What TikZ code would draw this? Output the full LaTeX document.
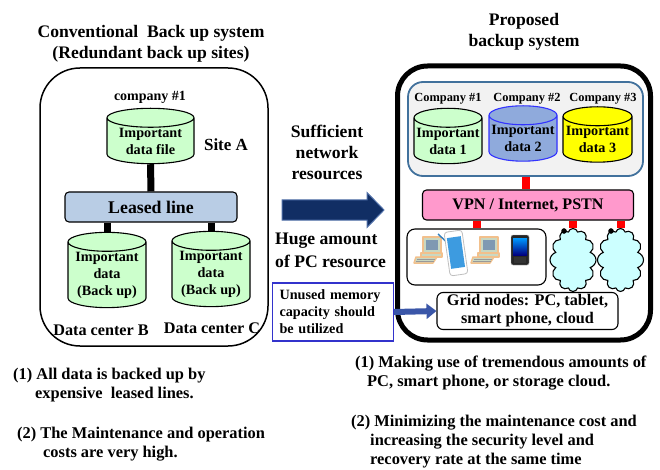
\documentclass[tikz,border=0pt]{standalone}
\usepackage{fontspec}
\setmainfont{Liberation Serif}
\usetikzlibrary{arrows.meta,positioning,shapes.geometric,shapes.symbols}

\definecolor{dbgreen}{HTML}{CCFFCC}
\definecolor{dbblue}{HTML}{8FAADC}
\definecolor{dbbluetop}{HTML}{B4C7E7}
\definecolor{dbblueedge}{HTML}{3333FF}
\definecolor{dbyellow}{HTML}{FFFF00}
\definecolor{leasefill}{HTML}{B9CDE5}
\definecolor{vpnpink}{HTML}{FF99CC}
\definecolor{groupgray}{HTML}{F2F2F2}
\definecolor{groupedge}{HTML}{41719C}
\definecolor{cloudcyan}{HTML}{CCFFFF}
\definecolor{navy}{HTML}{112E64}
\definecolor{navyedge}{HTML}{4F6FA8}
\definecolor{noteblue}{HTML}{3333CC}
\definecolor{arrowblue}{HTML}{3A56A8}
\definecolor{pcbody}{HTML}{C9D8C2}
\definecolor{pcscreen}{HTML}{7F99B2}
\definecolor{pcglow}{HTML}{F2C08C}
\definecolor{tabblue}{HTML}{3D9BE0}
\definecolor{stylusblue}{HTML}{2F7FBF}

\tikzset{
  pcicon/.pic={
    \begin{scope}[draw=pcglow, line width=1.5pt, fill=pcbody, line join=round]
      \filldraw (-6,-13) rectangle (12,3);
      \filldraw (-8,3) rectangle (13,7);
      \filldraw (-13,7) -- (8,7) -- (4,13) -- (-15,13) -- cycle;
    \end{scope}
    \fill[pcscreen] (-3,-10) rectangle (9,0);
    \draw[gray!80, line width=0.6pt] (-12,9) -- (6,9) (-13,11) -- (5,11);
  },
  tableticon/.pic={
    \draw[stylusblue, line width=1.4pt] (-18,-19) -- (-3,-5);
    \begin{scope}[rotate=8]
      \filldraw[fill=white, draw=gray!50, line width=0.8pt, rounded corners=3pt] (-9,-22) rectangle (9,22);
      \fill[tabblue] (-7,-16) rectangle (7,15);
    \end{scope}
  },
  phoneicon/.pic={
    \filldraw[fill=black!85, draw=gray!60, rounded corners=2pt] (-9,-15) rectangle (9,15);
    \shade[top color=cyan!60!blue, bottom color=blue!50!black] (-7,-12) rectangle (7,5);
    \fill[gray!40!black] (-6,7) rectangle (6,13);
  }
}

\begin{document}
\begin{tikzpicture}[x=1pt,y=-1pt,
every node/.style={font=\bfseries, inner sep=0pt},
db/.style={cylinder, shape border rotate=90, aspect=0.3, draw, line width=1.1pt,
  fill=dbgreen, align=center, font=\fontsize{14.2}{17}\selectfont\bfseries},
box/.style={draw, line width=1.1pt, rounded corners=4pt, align=center},
link/.style={line width=7pt},
redlink/.style={line width=8pt, red},
heading/.style={align=center, font=\fontsize{17.6}{21}\selectfont\bfseries},
txt/.style={align=center, font=\fontsize{16.2}{19}\selectfont\bfseries},
remark/.style={align=left, anchor=west, font=\fontsize{16.4}{19}\selectfont\bfseries},
puff/.style={cloud, cloud puffs=12, cloud ignores aspect, draw, line width=1.1pt,
  fill=cloudcyan, minimum width=46pt, minimum height=63pt},
knot/.style={circle, draw, fill=black, minimum size=5pt}]
\useasboundingbox (0,0) rectangle (660,470);

% conventional system
\node[heading] (convtitle) at (151,44) {Conventional\ \ Back up system\\(Redundant back up sites)};
\node[draw, line width=1.5pt, rounded corners=40pt, minimum width=228pt, minimum height=278pt] (convsys) at (154,207) {};
\node[font=\fontsize{14}{16}\selectfont\bfseries] (comp) at (150,97) {company \#1};
\node[db, minimum width=87pt, minimum height=50pt] (siteA) at (150.5,141) {Important\\data file};
\node[font=\fontsize{17}{19}\selectfont\bfseries] (siteAlbl) at (226,145) {Site A};
\node[box, fill=leasefill, minimum width=172pt, minimum height=30pt,
  font=\fontsize{17.8}{20}\selectfont\bfseries] (leased) at (151,207) {Leased line};
\node[db, minimum width=78pt, minimum height=70pt] (dcB) at (107,275) {Important\\data\\(Back up)};
\node[db, minimum width=78pt, minimum height=68pt] (dcC) at (211,274) {Important\\data\\(Back up)};
\node[txt] (dcBlbl) at (101,330) {Data center B};
\node[txt] (dcClbl) at (212,328) {Data center C};
\draw[link] (siteA.south) -- (leased.north);
\draw[link] (leased.south -| dcB.north) -- (dcB.north);
\draw[link] (leased.south -| dcC.north) -- (dcC.north);

% middle
\node[heading] (netres) at (327,152) {Sufficient\\network\\resources};
\filldraw[fill=navy, draw=navyedge, line width=1pt] (282,200) -- (367,200) -- (367,192.5)
  -- (384,210) -- (367,227.5) -- (367,220) -- (282,220) -- cycle;
\node[heading, align=left, anchor=west, font=\fontsize{17.6}{23}\selectfont\bfseries] (pcres) at (275,250) {Huge amount\\of PC resource};
\node[draw=noteblue, line width=1.2pt, text width=107pt, minimum height=58pt, inner xsep=7pt,
  align=left, font=\fontsize{14.2}{17}\selectfont\bfseries] (unused) at (333,312) {Unused memory\\capacity should\\be utilized};

% proposed system
\node[heading] (proptitle) at (524,32) {Proposed\\backup system};
\node[draw, line width=5pt, rounded corners=30pt, minimum width=253pt, minimum height=274pt] (propsys) at (524,203) {};
\node[draw=groupedge, fill=groupgray, line width=1.8pt, rounded corners=15pt,
  minimum width=235pt, minimum height=94pt] (companies) at (525.5,129) {};
\node[font=\fontsize{12.4}{14}\selectfont\bfseries] (comp1) at (448,99) {Company \#1};
\node[font=\fontsize{12.4}{14}\selectfont\bfseries] (comp2) at (527,99) {Company \#2};
\node[font=\fontsize{12.4}{14}\selectfont\bfseries] (comp3) at (603,99) {Company \#3};
\node[db, minimum width=68pt, minimum height=50pt] (data1) at (448,141) {Important\\data 1};
\node[db, minimum width=68pt, minimum height=51pt, draw=dbblueedge, fill=dbblue, cylinder uses custom fill,
  cylinder body fill=dbblue, cylinder end fill=dbbluetop] (data2) at (523,138.5) {Important\\data 2};
\node[db, minimum width=69pt, minimum height=51pt, fill=dbyellow] (data3) at (597.5,139.5) {Important\\data 3};
\node[box, fill=vpnpink, minimum width=211pt, minimum height=30pt,
  font=\fontsize{16.1}{18}\selectfont\bfseries] (vpn) at (528,205) {VPN / Internet, PSTN};
\node[box, rounded corners=8pt, minimum width=139pt, minimum height=56pt] (devices) at (476.5,257) {};
\pic at (429,250) {pcicon};
\pic at (456,253) {tableticon};
\pic at (486,250) {pcicon};
\pic at (520,250) {phoneicon};
\node[puff] (cloud1) at (573,260) {};
\node[puff] (cloud2) at (620.5,260) {};
\node[knot] (knot1) at (564,231) {};
\node[knot] (knot2) at (611,231) {};
\node[box, rounded corners=6pt, minimum width=181pt, minimum height=37pt,
  font=\fontsize{16.2}{18}\selectfont\bfseries] (grid) at (527.5,311) {Grid nodes: PC, tablet,\\smart phone, cloud};
\draw[redlink] (companies.south) -- (companies.south |- vpn.north);
\draw[redlink] (vpn.south -| devices.north) -- (devices.north);
\draw[redlink] (vpn.south -| cloud1.north) -- (cloud1.north);
\draw[redlink] (vpn.south -| cloud2.north) -- (cloud2.north);
\draw[line width=6pt, arrowblue, -{Triangle[length=10pt, width=15pt]}] (unused.east) -- (grid.west);

% remarks
\node[remark] (convnote1) at (13,385.5) {(1) All data is backed up by\\\hspace*{22pt}expensive\ \ leased lines.};
\node[remark] (convnote2) at (17,444) {(2) The Maintenance and operation\\\hspace*{26pt}costs are very high.};
\node[remark] (propnote1) at (355,373.5) {(1) Making use of tremendous amounts of\\\hspace*{12pt}PC, smart phone, or storage cloud.};
\node[remark] (propnote2) at (351,442) {(2) Minimizing the maintenance cost and\\\hspace*{19pt}increasing the security level and\\\hspace*{19pt}recovery rate at the same time};
\end{tikzpicture}
\end{document}
